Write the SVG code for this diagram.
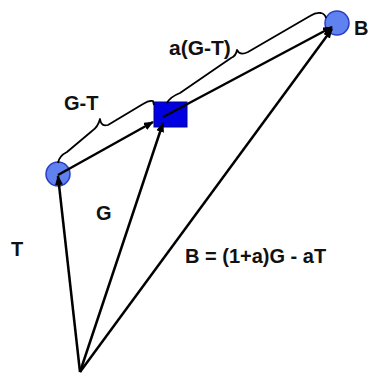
<svg xmlns="http://www.w3.org/2000/svg" width="368" height="374" viewBox="0 0 368 374">
<style>
.lbl{font-family:"Liberation Sans",Arial,sans-serif;font-weight:bold;font-size:20px;fill:#111}
.vec{stroke:#000;stroke-width:2.5;fill:none;marker-end:url(#ah)}
.brace{stroke:#000;stroke-width:1.8;fill:none;stroke-linejoin:round}
.pt{fill:#5f82f0;stroke:#2a3cc0;stroke-width:1.5}
</style>
<defs>
<marker id="ah" markerUnits="userSpaceOnUse" markerWidth="10" markerHeight="8" refX="9" refY="4" orient="auto">
<path d="M0,0 L10,4 L0,8 Z" fill="#000"/>
</marker>
</defs>
<rect width="368" height="374" fill="#fff"/>
<g id="nodeT"><circle class="pt" cx="58" cy="174" r="12"/></g>
<g id="nodeG"><rect x="154" y="102" width="33" height="25" fill="#0000e0" stroke="#000090" stroke-width="1"/></g>
<g id="nodeB"><circle class="pt" cx="337" cy="23" r="12"/></g>
<g id="connectors">
<line class="vec" x1="80" y1="372" x2="58" y2="176"/>
<line class="vec" x1="80" y1="372" x2="163" y2="123"/>
<line class="vec" x1="80" y1="372" x2="332" y2="29"/>
<line class="vec" x1="58" y1="175" x2="153" y2="122"/>
<line class="vec" x1="163" y1="117" x2="332" y2="27"/>
<path class="brace" d="M58,163 Q59,156 67,152 L92,131 Q98,127 100,119 Q101,127 108,125 L143,104 Q149,100 153,101 L154,105"/>
<path class="brace" d="M167,103 Q170,97 180,93 L231,58 Q236,56 237,50 Q240,56 248,52 L310,16 Q316,12 321,13 Q325,14 326,18"/>
</g>
<g id="labels">
<text class="lbl" x="64" y="110">G-T</text>
<text class="lbl" x="169" y="55" style="font-size:21px">a(G-T)</text>
<text class="lbl" x="354" y="35">B</text>
<text class="lbl" x="96" y="220">G</text>
<text class="lbl" x="11" y="256">T</text>
<text class="lbl" x="185" y="263">B = (1+a)G - aT</text>
</g>
</svg>
